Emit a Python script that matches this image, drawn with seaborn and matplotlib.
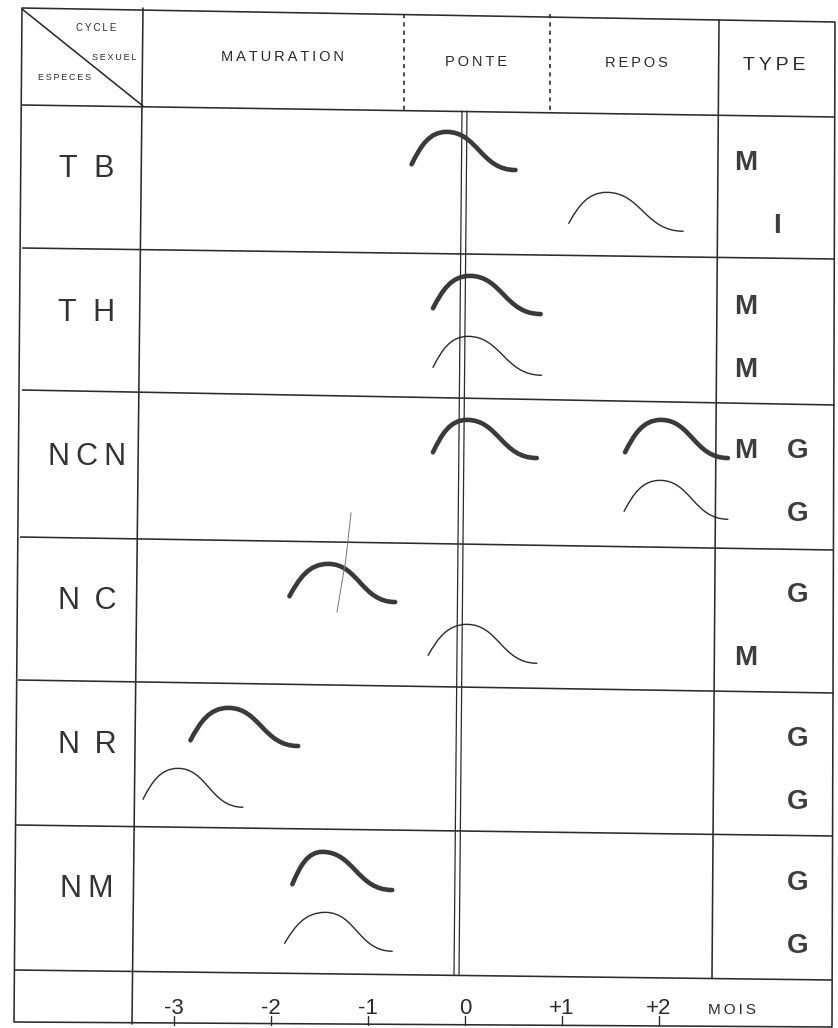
import numpy as np
import matplotlib
matplotlib.use("Agg")
import matplotlib.pyplot as plt
from matplotlib.path import Path
from matplotlib.patches import PathPatch
from matplotlib.transforms import blended_transform_factory
import seaborn as sns

sns.set_theme(style="white")
plt.rcParams['font.family'] = ['Liberation Sans', 'DejaVu Sans']

# ---------------- data ----------------
species = ["T  B", "T  H", "N\u2009C\u2009N", "N \u2009C", "N \u2009R", "N\u2009M"]
phases = ["MATURATION", "PONTE", "REPOS"]
month_ticks = [-3, -2, -1, 0, 1, 2]
month_labels = ["-3", "-2", "-1", "0", "+1", "+2"]
unit_label = "MOIS"
type_upper = ["M", "M", "M G", "G", "G", "G"]
type_lower = ["I", "M", "G", "M", "G", "G"]

# curves (months relative to spawning): row, track (0 upper/thick, 1 lower/thin)
curve_row   = [0, 0, 1, 1, 2, 2, 2, 3, 3, 4, 4, 5, 5]
curve_track = [0, 1, 0, 1, 0, 0, 1, 0, 1, 0, 1, 0, 1]
curve_start = [-0.55, 1.07, -0.33, -0.33, -0.33, 1.65, 1.64, -1.81, -0.38, -2.83, -3.32, -1.78, -1.86]
curve_peak  = [-0.19, 1.46, 0.05, 0.03, 0.02, 2.02, 2.01, -1.41, 0.02, -2.44, -2.96, -1.47, -1.44]
curve_end   = [0.52, 2.25, 0.78, 0.79, 0.74, 2.71, 2.71, -0.72, 0.74, -1.72, -2.29, -0.75, -0.75]

# stray pen stroke in the NC row (months, row units)
stray_x = [-1.175, -1.23, -1.32]
stray_y = [2.79, 3.12, 3.48]

# ---------------- layout ----------------
W, H = 838, 1028
fig = plt.figure(figsize=(W / 100, H / 100), dpi=100)
fig.patch.set_facecolor("white")

tab = fig.add_axes([0, 0, 1, 1])
tab.set_xlim(0, W)
tab.set_ylim(H, 0)
tab.axis("off")

PX0, PXM = 465.0, 97.0      # pixel of month 0, pixels per month
PY0, PYR = 111.0, 144.0     # pixel of first row top, pixels per row
ax = fig.add_axes([0, 0, 1, 1])
ax.set_xlim(-PX0 / PXM, (W - PX0) / PXM)
ax.set_ylim((H - PY0) / PYR, -PY0 / PYR)
ax.axis("off")
ax.patch.set_alpha(0)

lc = "#2b2b2b"
lw = 1.15
# table frame (slightly skewed like the scan)
hlines = [((22, 8), (835, 22)), ((22, 105), (835, 117)), ((22, 248), (835, 259)),
          ((22, 390), (835, 405)), ((20, 537), (834, 550)), ((18, 680), (834, 693)),
          ((16, 825), (833, 836)), ((15, 970), (832, 980)), ((14, 1022), (832, 1027))]
for (x1, y1), (x2, y2) in hlines:
    tab.plot([x1, x2], [y1, y2], color=lc, lw=lw, solid_capstyle="butt")
vlines = [((22, 8), (14, 1022)), ((143, 8), (132, 1024)), ((719, 20), (712, 978)),
          ((835, 22), (832, 1027))]
for (x1, y1), (x2, y2) in vlines:
    tab.plot([x1, x2], [y1, y2], color=lc, lw=lw)
# double line at month 0
for dx in (0, 5):
    tab.plot([462 + dx, 454 + dx], [111, 975], color=lc, lw=0.9)
# dotted separators in header
for xd in (404, 550):
    tab.plot([xd, xd], [14, 112], color=lc, lw=1.2, ls=(0, (2.5, 2.5)))
# diagonal
tab.plot([22, 143], [9, 106], color=lc, lw=lw)

# header texts
hc = "#2a2a2a"
def spaced(s):
    return "\u2009".join(s)
tab.text(96, 28, spaced("CYCLE"), ha="center", va="center", fontsize=7, color=hc)
tab.text(114, 57, spaced("SEXUEL"), ha="center", va="center", fontsize=6.5, color=hc)
tab.text(64, 77, spaced("ESPECES"), ha="center", va="center", fontsize=6.5, color=hc)
phase_x = [282, 476, 636]
phase_y = [57, 62, 63]
for name, x, y in zip(phases, phase_x, phase_y):
    tab.text(x, y, spaced(name), ha="center", va="center", fontsize=10.5, color=hc)
tab.text(774, 65, spaced("TYPE"), ha="center", va="center", fontsize=14, color=hc)

# species labels
for i, sp in enumerate(species):
    ax.text(87 / W, i + 0.40, sp, transform=blended_transform_factory(ax.transAxes, ax.transData),
            ha="center", va="center", fontsize=22, color="#333333")

# type labels
type_x = {"M": 746, "I": 777, "G": 798}
trans_type = blended_transform_factory(ax.transAxes, ax.transData)
for i, (up, lo) in enumerate(zip(type_upper, type_lower)):
    for txt, off in ((up, 0.36), (lo, 0.80)):
        for letter in txt.split():
            ax.text(type_x[letter] / W, i + off, letter, transform=trans_type,
                    ha="center", va="center", fontsize=20, fontweight="bold", color="#3d3d3d")

# curves
track_y = {0: (0.37, 0.145, 0.41), 1: (0.78, 0.565, 0.835)}
track_style = {0: dict(lw=3.3, color="#3a3a3a"), 1: dict(lw=1.0, color="#2a2a2a")}
for r, t, xs, xp, xe in zip(curve_row, curve_track, curve_start, curve_peak, curve_end):
    ys, yp, ye = (r + v for v in track_y[t])
    d1, d2 = xp - xs, xe - xp
    verts = [(xs, ys), (xs + 0.25 * d1, ys - 0.55 * (ys - yp)), (xp - 0.5 * d1, yp), (xp, yp),
             (xp + 0.45 * d2, yp), (xe - 0.5 * d2, ye), (xe, ye)]
    codes = [Path.MOVETO] + [Path.CURVE4] * 6
    ax.add_patch(PathPatch(Path(verts, codes), fill=False, capstyle="round",
                           joinstyle="round", **track_style[t]))

ax.plot(stray_x, stray_y, color="#777777", lw=0.7)

# month axis
tr = ax.get_xaxis_transform()
for m, lab in zip(month_ticks, month_labels):
    ax.plot([m, m], [(H - 1025) / H, (H - 1016) / H], transform=tr, color=lc, lw=1.0)
    ax.text(m, (H - 1008) / H, lab, transform=tr, ha="center", va="center",
            fontsize=16, color="#2a2a2a")
ax.text(2.75, (H - 1010) / H, spaced(unit_label), transform=tr, ha="center", va="center",
        fontsize=11, color="#2a2a2a")

fig.savefig("out.png", dpi=100, facecolor="white")
